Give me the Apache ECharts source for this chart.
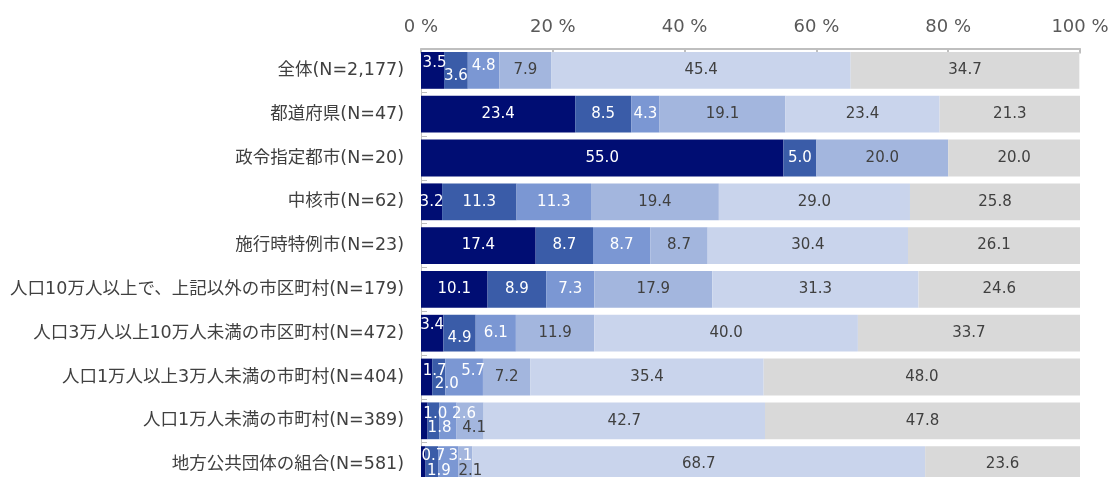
<!DOCTYPE html>
<html lang="ja">
<head>
<meta charset="UTF-8">
<style>
  html, body { margin: 0; padding: 0; background: #fff; }
  #chart { width: 1108px; height: 477px; }
</style>
</head>
<body>
<div id="chart"></div>
<script src="https://cdn.jsdelivr.net/npm/echarts@6/dist/echarts.min.js"></script>
<script>
var categories = [
  '全体(N=2,177)',
  '都道府県(N=47)',
  '政令指定都市(N=20)',
  '中核市(N=62)',
  '施行時特例市(N=23)',
  '人口10万人以上で、上記以外の市区町村(N=179)',
  '人口3万人以上10万人未満の市区町村(N=472)',
  '人口1万人以上3万人未満の市町村(N=404)',
  '人口1万人未満の市町村(N=389)',
  '地方公共団体の組合(N=581)'
];
var xTicks = [0, 20, 40, 60, 80, 100];

// one array per stacked segment (left to right)
var s1 = [3.5, 23.4, 55.0, 3.2, 17.4, 10.1, 3.4, 1.7, 1.0, 0.7];
var s2 = [3.6, 8.5, 5.0, 11.3, 8.7, 8.9, 4.9, 2.0, 1.8, 1.9];
var s3 = [4.8, 4.3, 0, 11.3, 8.7, 7.3, 6.1, 5.7, 2.6, 3.1];
var s4 = [7.9, 19.1, 20.0, 19.4, 8.7, 17.9, 11.9, 7.2, 4.1, 2.1];
var s5 = [45.4, 23.4, 0, 29.0, 30.4, 31.3, 40.0, 35.4, 42.7, 68.7];
var s6 = [34.7, 21.3, 20.0, 25.8, 26.1, 24.6, 33.7, 48.0, 47.8, 23.6];

var seriesData = [s1, s2, s3, s4, s5, s6];
var colors = ['#000d73', '#3a5ca8', '#7b97d3', '#a3b6de', '#c9d4ec', '#d9d9d9'];
var labelColors = ['#fff', '#fff', '#fff', '#404040', '#404040', '#404040'];
var latinFont = '"DejaVu Sans", Verdana, "Noto Sans CJK JP", sans-serif';

// small segments: labels pushed up/down like the original (row -> series -> [dx, dy])
var nudge = {
  0: {0: [2, -7], 1: [0, 6], 2: [0, -4]},
  6: {0: [0, -8], 1: [0, 5]},
  7: {0: [8, -6], 1: [8, 7], 2: [9, -6]},
  8: {0: [11, -7], 1: [6, 7], 2: [16, -7], 3: [4, 7]},
  9: {0: [10, -8], 1: [7, 7], 2: [12, -8], 3: [5, 7]}
};

var series = seriesData.map(function (arr, si) {
  return {
    name: '区分' + (si + 1),
    type: 'bar',
    stack: 'total',
    barCategoryGap: '16%',
    itemStyle: { color: colors[si] },
    label: {
      show: true,
      position: 'inside',
      color: labelColors[si],
      fontFamily: latinFont,
      fontSize: 15,
      formatter: function (p) {
        return p.value > 0 ? p.value.toFixed(1) : '';
      }
    },
    data: arr.map(function (v, ci) {
      var n = nudge[ci] && nudge[ci][si];
      if (!n) return v;
      return { value: v, label: { offset: n } };
    })
  };
});

var chart = echarts.init(document.getElementById('chart'));
chart.setOption({
  animation: false,
  grid: { left: 421, width: 659, top: 48.5, height: 438, outerBoundsMode: 'none', containLabel: false },
  xAxis: {
    type: 'value',
    position: 'top',
    min: xTicks[0],
    max: xTicks[xTicks.length - 1],
    interval: 20,
    axisLine: { show: true, lineStyle: { color: '#bfbfbf', width: 2 } },
    axisTick: { show: true, inside: true, length: 5, lineStyle: { color: '#bfbfbf', width: 2 } },
    splitLine: { show: false },
    axisLabel: {
      color: '#595959',
      fontSize: 18,
      margin: 12,
      fontFamily: latinFont,
      formatter: '{value} %'
    }
  },
  yAxis: {
    type: 'category',
    inverse: true,
    data: categories,
    axisLine: { show: true, lineStyle: { color: '#bfbfbf', width: 1 } },
    axisTick: { show: true, inside: true, length: 6, lineStyle: { color: '#bfbfbf' } },
    axisLabel: {
      color: '#404040',
      fontSize: 17.5,
      margin: 17,
      fontFamily: latinFont
    }
  },
  series: series
});
</script>
</body>
</html>
